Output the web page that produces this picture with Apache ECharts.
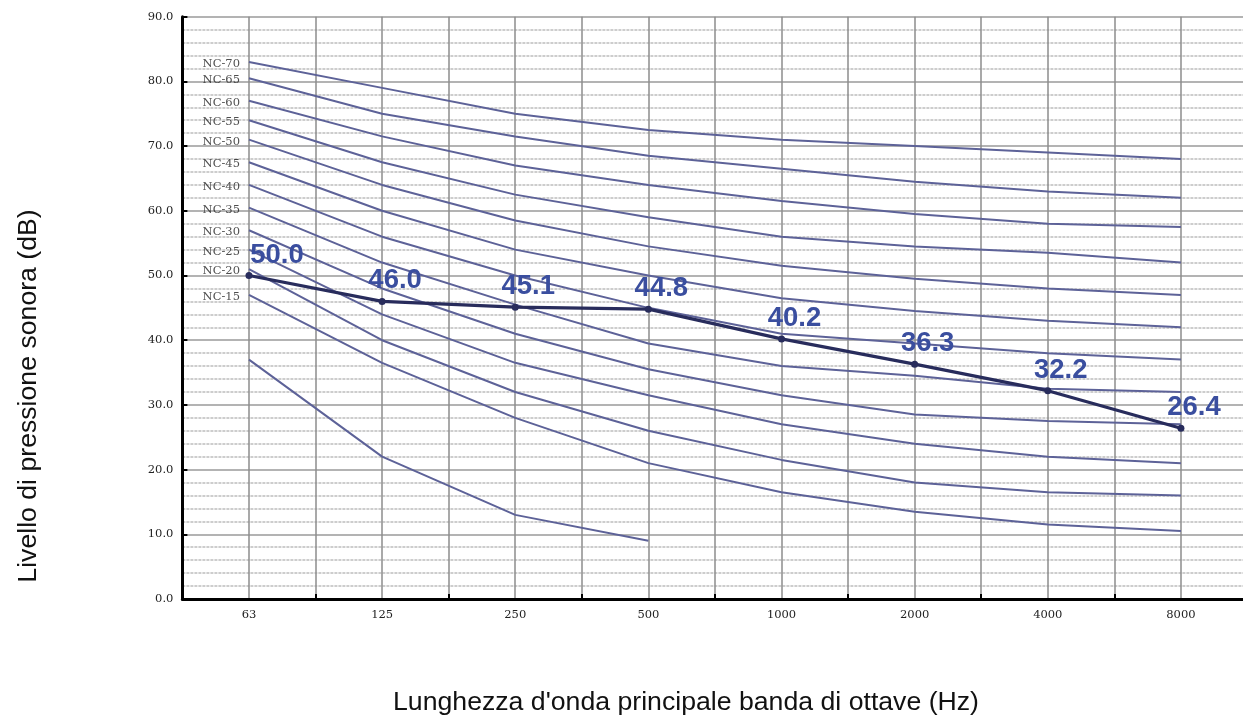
<!DOCTYPE html>
<html>
<head>
<meta charset="utf-8">
<script src="https://cdn.jsdelivr.net/npm/echarts@6/dist/echarts.min.js"></script>
<style>
html,body{margin:0;padding:0;background:#fff;}
#chart{width:1243px;height:720px;}
</style>
</head>
<body>
<div id="chart"></div>
<script>
// ---- data ----
const freqs = ['63', '125', '250', '500', '1000', '2000', '4000', '8000'];
const ncNames = ['NC-70', 'NC-65', 'NC-60', 'NC-55', 'NC-50', 'NC-45', 'NC-40', 'NC-35', 'NC-30', 'NC-25', 'NC-20', 'NC-15'];
const nc70 = [83, 79, 75, 72.5, 71, 70, 69, 68];
const nc65 = [80.5, 75, 71.5, 68.5, 66.5, 64.5, 63, 62];
const nc60 = [77, 71.5, 67, 64, 61.5, 59.5, 58, 57.5];
const nc55 = [74, 67.5, 62.5, 59, 56, 54.5, 53.5, 52];
const nc50 = [71, 64, 58.5, 54.5, 51.5, 49.5, 48, 47];
const nc45 = [67.5, 60, 54, 50, 46.5, 44.5, 43, 42];
const nc40 = [64, 56, 50, 45, 41, 39.5, 38, 37];
const nc35 = [60.5, 52, 45.5, 39.5, 36, 34.5, 32.5, 32];
const nc30 = [57, 48, 41, 35.5, 31.5, 28.5, 27.5, 27];
const nc25 = [54, 44, 36.5, 31.5, 27, 24, 22, 21];
const nc20 = [51, 40, 32, 26, 21.5, 18, 16.5, 16];
const nc15 = [47, 36.5, 28, 21, 16.5, 13.5, 11.5, 10.5];
const ncLow = [37, 22, 13, 9];
const measured = [50.0, 46.0, 45.1, 44.8, 40.2, 36.3, 32.2, 26.4];
const ncCurves = [nc70, nc65, nc60, nc55, nc50, nc45, nc40, nc35, nc30, nc25, nc20, nc15];

const NC_COLOR = '#5d6298';
const MEAS_COLOR = '#282c5c';
const LABEL_COLOR = '#3a4e9f';

const series = [];
ncCurves.forEach((d, i) => {
  series.push({
    type: 'line', name: ncNames[i], data: d, xAxisIndex: 0,
    symbol: 'none', silent: true, z: 2,
    lineStyle: { color: NC_COLOR, width: 2 }
  });
});
series.push({
  type: 'line', name: 'low', data: ncLow, xAxisIndex: 0,
  symbol: 'none', silent: true, z: 2,
  lineStyle: { color: NC_COLOR, width: 2 }
});
// NC labels at the start of each curve
series.push({
  type: 'scatter', xAxisIndex: 0, symbolSize: 0, silent: true, z: 3,
  data: ncCurves.map((d, i) => ({ value: [0, d[0]], name: ncNames[i] })),
  label: {
    show: true, position: 'left', distance: 9, offset: [0, 2],
    formatter: p => p.name,
    fontFamily: 'DejaVu Serif', fontSize: 11.5, color: '#222'
  }
});
series.push({
  type: 'line', name: 'measured', xAxisIndex: 0, z: 5,
  data: measured.map((v, i) => i === 0 ? { value: v, label: { offset: [28, 0] } } : v),
  symbol: 'circle', symbolSize: 7,
  itemStyle: { color: MEAS_COLOR },
  lineStyle: { color: MEAS_COLOR, width: 3.2 },
  label: {
    show: true, position: 'top', distance: 3, offset: [13, 0],
    formatter: p => p.value.toFixed(1),
    fontFamily: 'Liberation Sans, Arial', fontWeight: 'bold', fontSize: 27.5,
    color: LABEL_COLOR
  }
});

const chart = echarts.init(document.getElementById('chart'), null, { renderer: 'canvas' });
chart.setOption({
  animation: false,
  backgroundColor: '#fff',
  grid: { left: 182.4, right: -4.5, top: 16.7, bottom: 121, containLabel: false, outerBoundsMode: 'none' },
  xAxis: [
    {
      type: 'category', data: freqs, boundaryGap: true, position: 'bottom',
      axisLine: { show: true, lineStyle: { color: '#000', width: 3 } },
      axisTick: { show: true, inside: true, length: 5, lineStyle: { color: '#000', width: 2 } },
      axisLabel: { margin: 10, fontFamily: 'DejaVu Serif', fontSize: 11.5, color: '#222' },
      splitLine: { show: false }
    },
    {
      type: 'value', min: 0, max: 16, interval: 1, position: 'bottom',
      axisLine: { show: false }, axisTick: { show: false }, axisLabel: { show: false },
      splitLine: { show: true, lineStyle: { color: '#8c8c8c', width: 1.5 } }
    }
  ],
  yAxis: {
    type: 'value', min: 0, max: 90, interval: 10,
    axisLine: { show: true, lineStyle: { color: '#000', width: 3 } },
    axisTick: { show: true, inside: true, length: 5, lineStyle: { color: '#000', width: 2 } },
    axisLabel: { margin: 9, formatter: v => v.toFixed(1), fontFamily: 'DejaVu Serif', fontSize: 11.5, color: '#222' },
    splitLine: { show: true, lineStyle: { color: '#9a9a9a', width: 1.5 } },
    minorTick: { show: false, splitNumber: 5 },
    minorSplitLine: { show: true, lineStyle: { color: '#bdbdbd', width: 1.5, type: [3, 1] } }
  },
  series: series,
  graphic: [
    {
      type: 'text', x: 29, y: 396, rotation: Math.PI / 2, silent: true,
      style: {
        text: 'Livello di pressione sonora (dB)', fill: '#111',
        font: '26.67px "Liberation Sans", Arial, sans-serif',
        textAlign: 'center', textVerticalAlign: 'middle'
      }
    },
    {
      type: 'text', x: 686, y: 703, silent: true,
      style: {
        text: "Lunghezza d'onda principale banda di ottave (Hz)", fill: '#111',
        font: '26.67px "Liberation Sans", Arial, sans-serif',
        textAlign: 'center', textVerticalAlign: 'middle'
      }
    }
  ]
});
</script>
</body>
</html>
